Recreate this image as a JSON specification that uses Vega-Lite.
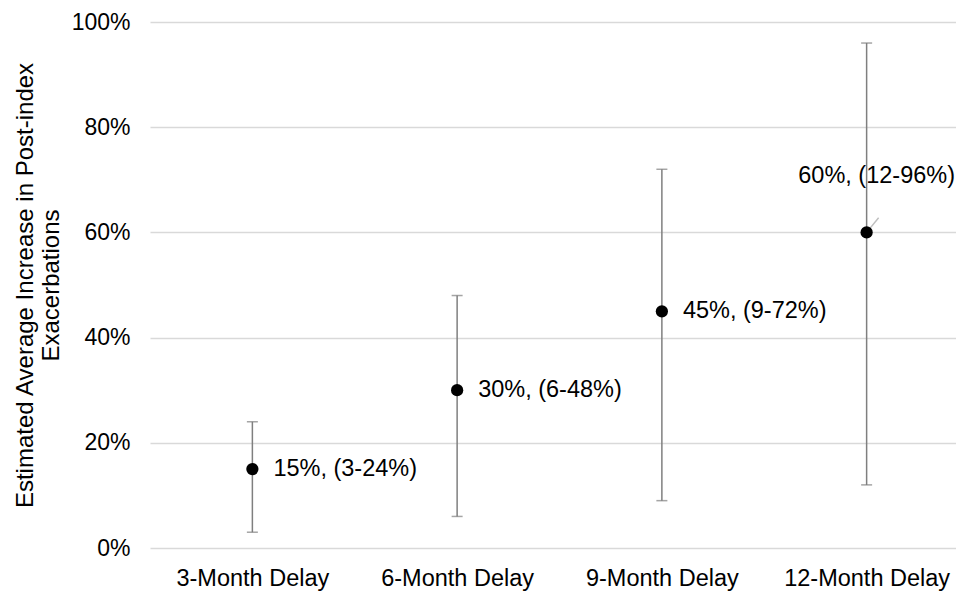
{
  "$schema": "https://vega.github.io/schema/vega-lite/v6.json",
  "autosize": {"type": "none"},
  "padding": {"left": 150, "top": 22, "right": -13, "bottom": 43},
  "width": 819,
  "height": 526,
  "background": "white",
  "config": {
    "font": "Liberation Sans",
    "view": {"stroke": null}
  },
  "data": {
    "values": [
      {"delay": "3-Month Delay", "est": 0.15, "lo": 0.03, "hi": 0.24, "label": "15%, (3-24%)"},
      {"delay": "6-Month Delay", "est": 0.30, "lo": 0.06, "hi": 0.48, "label": "30%, (6-48%)"},
      {"delay": "9-Month Delay", "est": 0.45, "lo": 0.09, "hi": 0.72, "label": "45%, (9-72%)"},
      {"delay": "12-Month Delay", "est": 0.60, "lo": 0.12, "hi": 0.96, "label": "60%, (12-96%)"}
    ]
  },
  "encoding": {
    "x": {
      "field": "delay", "type": "nominal", "sort": null,
      "scale": {"type": "point", "padding": 0.5},
      "axis": {"title": null, "labelAngle": 0, "ticks": false, "domain": false, "grid": false,
               "labelFontSize": 23.5, "labelColor": "#000000", "labelPadding": 18, "labelFont": "Liberation Sans"}
    }
  },
  "layer": [
    {
      "mark": {"type": "rule", "color": "#7f7f7f", "strokeWidth": 1.5},
      "encoding": {
        "y": {"field": "lo", "type": "quantitative",
              "scale": {"domain": [0, 1]},
              "axis": {"title": ["Estimated Average Increase in Post-index", "Exacerbations"],
                       "format": ".0%", "values": [0, 0.2, 0.4, 0.6, 0.8, 1.0],
                       "ticks": false, "domain": false, "gridColor": "#d9d9d9", "gridWidth": 1.5,
                       "labelFontSize": 23, "labelColor": "#000000", "labelPadding": 20,
                       "titleFontSize": 24, "titleFontWeight": "normal", "titleColor": "#000000",
                       "titlePadding": 8, "titleLineHeight": 26}},
        "y2": {"field": "hi"}
      }
    },
    {
      "mark": {"type": "tick", "color": "#7f7f7f", "thickness": 1.5, "size": 11},
      "encoding": {"y": {"field": "lo", "type": "quantitative"}}
    },
    {
      "mark": {"type": "tick", "color": "#7f7f7f", "thickness": 1.5, "size": 11},
      "encoding": {"y": {"field": "hi", "type": "quantitative"}}
    },
    {
      "transform": [{"filter": "datum.delay === '12-Month Delay'"}],
      "mark": {"type": "rule", "color": "#bfbfbf", "strokeWidth": 1.5, "x2Offset": 12},
      "encoding": {
        "x2": {"field": "delay"},
        "y": {"field": "est", "type": "quantitative"},
        "y2": {"datum": 0.628}
      }
    },
    {
      "mark": {"type": "point", "filled": true, "color": "#000000", "opacity": 1, "size": 150},
      "encoding": {"y": {"field": "est", "type": "quantitative"}}
    },
    {
      "transform": [{"filter": "datum.delay !== '12-Month Delay'"}],
      "mark": {"type": "text", "align": "left", "baseline": "middle", "dx": 21, "fontSize": 23.5, "color": "#000000"},
      "encoding": {"y": {"field": "est", "type": "quantitative"}, "text": {"field": "label"}}
    },
    {
      "transform": [{"filter": "datum.delay === '12-Month Delay'"}],
      "mark": {"type": "text", "align": "center", "baseline": "middle", "dx": 10, "dy": -56, "fontSize": 23.5, "color": "#000000"},
      "encoding": {"y": {"field": "est", "type": "quantitative"}, "text": {"field": "label"}}
    }
  ]
}
